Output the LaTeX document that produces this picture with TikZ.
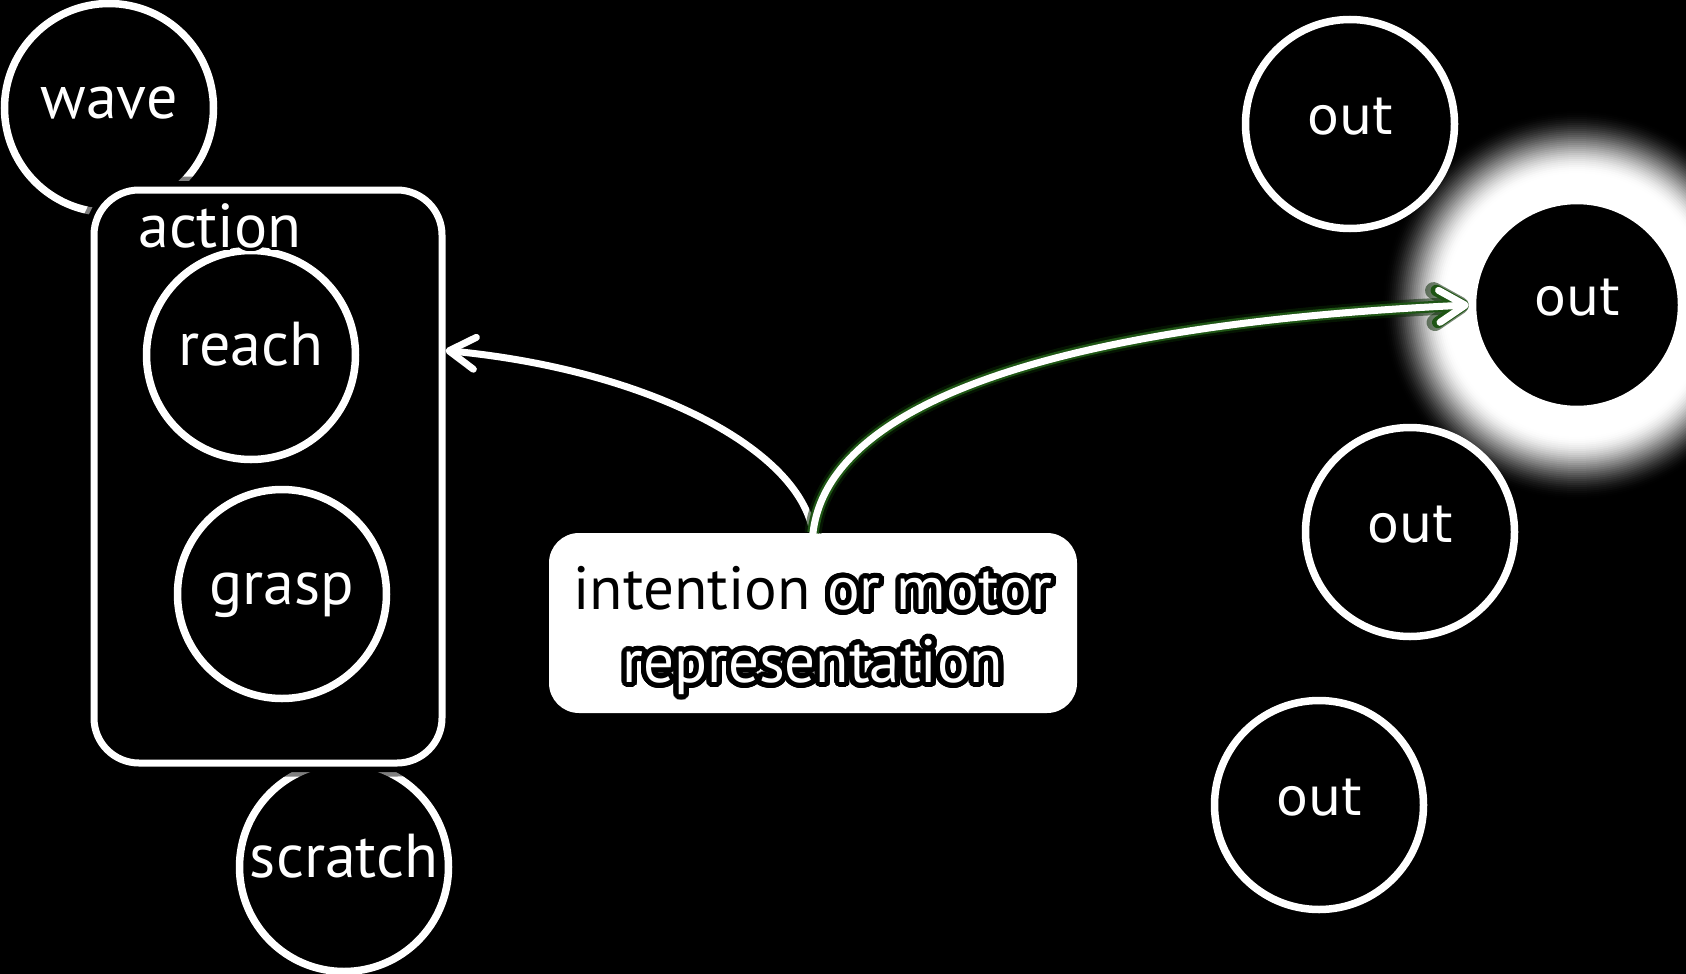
\documentclass[tikz,border=0pt]{standalone}
\usepackage{fontspec}
\setmainfont{PT Sans}
\newfontfamily\outfont{DejaVu Sans}
\usepackage[copies]{contour}
\usetikzlibrary{arrows.meta}
\definecolor{glowgreen}{RGB}{30,85,20}
\definecolor{glowdark}{RGB}{10,40,5}
\contournumber{36}
\newcommand{\haloed}[2]{{\contourlength{#1}\contour{black}{#2}}}
\newcommand{\lowered}[1]{\raisebox{-10pt}[\height][\depth]{#1}}
\tikzset{
  bubble/.style={circle, draw=white, line width=7.5pt, fill=black, minimum size=209pt,
    inner sep=0pt, text=white, text height=20pt, text depth=0pt,
    font=\fontsize{62}{62}\selectfont},
  outbubble/.style={bubble, font=\outfont\fontsize{52}{52}\selectfont},
  barbtip/.style={-{Straight Barb[round,length=26pt,width=32pt]}},
  conn/.style={barbtip, white, line width=7pt, line cap=round},
  glowA/.style={barbtip, glowdark, line width=17pt, line cap=butt, opacity=0.55},
  glowB/.style={barbtip, glowgreen, line width=11.5pt, line cap=butt},
  boxlabel/.style={anchor=base, inner sep=0pt, text=white, font=\fontsize{62}{62}\selectfont}
}
\begin{document}
\begin{tikzpicture}[x=1pt,y=-1pt]
\useasboundingbox (0,0) rectangle (1686,974);
\fill[black] (0,0) rectangle (1686,974);
% glow behind the highlighted output
\coordinate (o2c) at (1577,305);
\foreach \r in {196,194,...,106}{
  \pgfmathsetmacro\s{min(1,max(0,(196-\r)/64))}
  \pgfmathsetmacro\p{100*\s*\s*(3-2*\s)}
  \fill[white!\p!black] (o2c) circle[radius=\r pt];
}
% outer circles
\node[bubble] (wave) at (109,108) {wave};
\node[bubble] (scratch) at (344,867) {scratch};
\node[outbubble] (out1) at (1350,124) {out};
\node[outbubble] (out2) at (o2c) {out};
\node[outbubble] (out3) at (1410,532) {out};
\node[outbubble] (out4) at (1319,805) {out};
% action container
\node[draw=white, line width=7pt, fill=black, rounded corners=45pt,
      minimum width=348pt, minimum height=573pt, inner sep=0pt,
      preaction={draw=black, line width=27pt, draw opacity=0.5},
      preaction={draw=black, line width=18pt}] (action) at (268,476.5) {};
\node[bubble] (reach) at (251,355) {reach};
\node[bubble] (grasp) at (282,594) {grasp};
\node[boxlabel] (actlabel) at (220,247) {\haloed{3.5pt}{action}};
% intention box
\node[fill=white, rounded corners=30pt, minimum width=528pt, minimum height=180pt,
      align=center, inner sep=0pt, text=black,
      font=\fontsize{61}{73}\selectfont] (intent) at (813,623)
  {\lowered{intention {\color{white}\haloed{5pt}{or motor}}}\\\lowered{{\color{white}\haloed{5pt}{representation}}}};
% connectors
\draw[conn] (intent.north) .. controls (800,450) and (650,370) .. ([yshift=126pt]action.east);
\draw[glowA] (intent.north) .. controls (830,390) and (1100,322) .. (out2.west);
\draw[glowB] (intent.north) .. controls (830,390) and (1100,322) .. (out2.west);
\draw[conn] (intent.north) .. controls (830,390) and (1100,322) .. (out2.west);
\end{tikzpicture}
\end{document}
